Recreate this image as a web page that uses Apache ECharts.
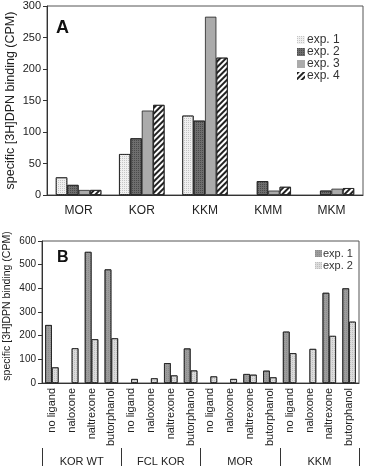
<!DOCTYPE html>
<html>
<head>
<meta charset="utf-8">
<script src="https://cdn.jsdelivr.net/npm/echarts@6/dist/echarts.min.js"></script>
<style>
html,body{margin:0;padding:0;background:#fff;}
#chart{width:367px;height:466px;}
</style>
</head>
<body>
<div id="chart"></div>
<script>
'use strict';
// panel A
var catsA = ['MOR', 'KOR', 'KKM', 'KMM', 'MKM'];
var a1 = [28, 65, 126, null, null];
var a2 = [16, 90, 118, 22, 7];
var a3 = [8, 134, 283, 7, 10];
var a4 = [8, 143, 218, 13, 11];
var ticksA = [0, 50, 100, 150, 200, 250, 300];

// panel B
var ligands = ['no ligand', 'naloxone', 'naltrexone', 'butorphanol'];
var groupsB = ['KOR WT', 'FCL KOR', 'MOR', 'KKM'];
var b1 = [245, null, 554, 480, null, null, 84, 146, null, null, 38, 52, 217, null, 381, 400];
var b2 = [66, 147, 185, 189, 17, 20, 32, 53, 28, 17, 35, 24, 126, 144, 199, 259];
var ticksB = [0, 100, 200, 300, 400, 500, 600];

var catsB = [];
groupsB.forEach(function () { ligands.forEach(function (l) { catsB.push(l); }); });

var FONT = 'Liberation Sans, Arial, sans-serif';
var yName = 'specific [3H]DPN binding (CPM)';

var dots = function (c) {
	return { symbol: 'rect', symbolSize: 1, dashArrayX: [1, 1], dashArrayY: [1, 1], color: c };
};
var stripes = { symbol: 'rect', symbolSize: 1, dashArrayX: [1, 0], dashArrayY: [1.5, 2], rotation: -Math.PI / 4, color: '#222' };

function bar(name, data, color, decal, xi, yi, gap) {
	return {
		type: 'bar', name: name, data: data, xAxisIndex: xi, yAxisIndex: yi,
		barGap: '0%', barCategoryGap: gap,
		itemStyle: { color: color, borderColor: '#222', borderWidth: 0.8, decal: decal },
		emphasis: { disabled: true }
	};
}

var chart = echarts.init(document.getElementById('chart'), null, { renderer: 'canvas' });
chart.setOption({
	animation: false,
	textStyle: { fontFamily: FONT },
	grid: [
		{ left: 47, top: 6, right: 4, bottom: 271, show: true, borderColor: '#555', borderWidth: 1, outerBoundsMode: 'none', containLabel: false },
		{ left: 42, top: 241, right: 8, bottom: 83, show: true, borderColor: '#555', borderWidth: 1, outerBoundsMode: 'none', containLabel: false }
	],
	legend: [
		{
			data: ['exp. 1', 'exp. 2', 'exp. 3', 'exp. 4'],
			orient: 'vertical', left: 292, top: 29, itemWidth: 8, itemHeight: 8, itemGap: 0,
			itemStyle: { borderWidth: 0 },
			textStyle: { fontSize: 12, color: '#333', lineHeight: 10.5, padding: [0, 0, 0, -3] },
			selectedMode: false, icon: 'rect'
		},
		{
			data: ['exp. 1 ', 'exp. 2 '],
			orient: 'vertical', left: 310, top: 243, itemWidth: 7, itemHeight: 7, itemGap: 1,
			itemStyle: { borderWidth: 0 },
			textStyle: { fontSize: 11, color: '#333', lineHeight: 11, padding: [0, 0, 0, -4] },
			selectedMode: false, icon: 'rect'
		}
	],
	xAxis: [
		{
			type: 'category', gridIndex: 0, data: catsA,
			axisLine: { lineStyle: { color: '#333' } },
			axisTick: { length: 4, lineStyle: { color: '#333' } },
			axisLabel: { fontSize: 12, color: '#222', margin: 10 }
		},
		{
			type: 'category', gridIndex: 1, data: catsB,
			axisLine: { lineStyle: { color: '#333' } },
			axisTick: { length: 65, interval: 0, lineStyle: { color: '#333' } },
			axisLabel: { fontSize: 11, color: '#222', rotate: 90, interval: 0, margin: 5 }
		},
		{
			// group labels under the ligand labels
			type: 'category', gridIndex: 1, data: groupsB, position: 'bottom', offset: 65,
			axisLine: { show: false, onZero: false },
			splitLine: { show: false }, splitArea: { show: false },
			axisTick: { show: true, length: 20, lineStyle: { color: '#333' } },
			axisLabel: { fontSize: 11, color: '#222', margin: 8 }
		}
	],
	yAxis: [
		{
			type: 'value', gridIndex: 0, min: 0, max: 300, interval: 50,
			splitLine: { show: false },
			axisLine: { show: true, lineStyle: { color: '#333' } },
			axisTick: { show: true, length: 4, lineStyle: { color: '#333' } },
			axisLabel: { fontSize: 11, color: '#222', margin: 6,
				customValues: ticksA },
			name: yName, nameLocation: 'middle', nameGap: 30, nameMoveOverlap: false,
			nameTextStyle: { fontSize: 12.5, color: '#222' }
		},
		{
			type: 'value', gridIndex: 1, min: 0, max: 600, interval: 100,
			splitLine: { show: false },
			axisLine: { show: true, lineStyle: { color: '#333' } },
			axisTick: { show: true, length: 4, lineStyle: { color: '#333' } },
			axisLabel: { fontSize: 10, color: '#222', margin: 6,
				customValues: ticksB },
			name: yName, nameLocation: 'middle', nameGap: 29, nameMoveOverlap: false,
			nameTextStyle: { fontSize: 10.5, color: '#222', padding: [0, 0, 0, 12] }
		}
	],
	graphic: [
		{ type: 'text', left: 56, top: 19, style: { text: 'A', font: 'bold 18px ' + FONT, fill: '#111' } },
		{ type: 'text', left: 57, top: 250, style: { text: 'B', font: 'bold 16px ' + FONT, fill: '#111' } }
	],
	series: [
		bar('exp. 1', a1, '#f0f0f0', dots('#c4c4c4'), 0, 0, '28%'),
		bar('exp. 2', a2, '#6e6e6e', dots('#4a4a4a'), 0, 0, '28%'),
		bar('exp. 3', a3, '#ababab', null, 0, 0, '28%'),
		bar('exp. 4', a4, '#ffffff', stripes, 0, 0, '28%'),
		bar('exp. 1 ', b1, '#9c9c9c', dots('#8a8a8a'), 1, 1, '32%'),
		bar('exp. 2 ', b2, '#dcdcdc', dots('#bdbdbd'), 1, 1, '32%')
	]
});
</script>
</body>
</html>
